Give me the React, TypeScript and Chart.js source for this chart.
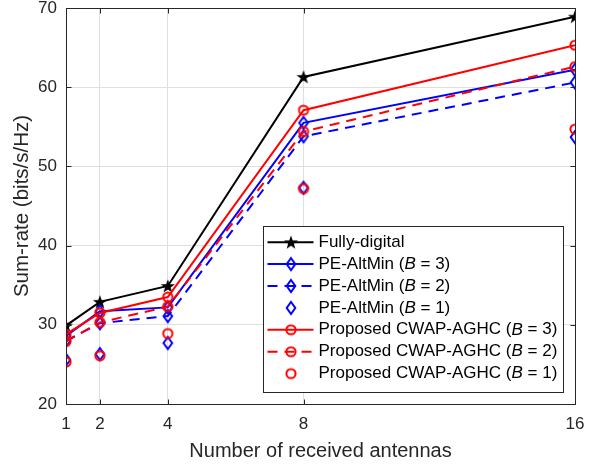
import React, { useEffect, useRef } from "react";
import { Chart, registerables } from "chart.js";

Chart.register(...registerables);

// ---------- data ----------
const antennas = [1, 2, 4, 8, 16];
const xTicks = [1, 2, 4, 8, 16];
const yTicks = [20, 30, 40, 50, 60, 70];

const fullyDigital = [29.9, 32.9, 34.9, 61.3, 68.9];
const peAltMinB3 = [28.6, 31.7, 32.2, 55.5, 62.2];
const peAltMinB2 = [28.0, 30.2, 31.1, 53.8, 60.6];
const peAltMinB1 = [25.6, 26.3, 27.7, 47.3, 53.7];
const cwapB3 = [28.8, 31.5, 33.5, 57.1, 65.3];
const cwapB2 = [27.9, 30.3, 32.3, 54.4, 62.6];
const cwapB1 = [25.3, 26.1, 28.9, 47.2, 54.7];

const legendLabels = [
  ["Fully-digital", "", ""],
  ["PE-AltMin (", "B", " = 3)"],
  ["PE-AltMin (", "B", " = 2)"],
  ["PE-AltMin (", "B", " = 1)"],
  ["Proposed CWAP-AGHC (", "B", " = 3)"],
  ["Proposed CWAP-AGHC (", "B", " = 2)"],
  ["Proposed CWAP-AGHC (", "B", " = 1)"],
];

const FONT = "'Liberation Sans', Arial, Helvetica, sans-serif";
const AXIS_COLOR = "#262626";
const GRID_COLOR = "#dfdfdf";
const BLUE = "#0000ff";
const RED = "#ff0000";
const DASH = [10, 7];

// ---------- marker images ----------
function makeStar(color: string) {
  const c = document.createElement("canvas");
  c.width = 16;
  c.height = 16;
  const g = c.getContext("2d")!;
  const cx = 8, cy = 8.6, R = 7.4, r = 3.0;
  g.beginPath();
  for (let i = 0; i < 10; i++) {
    const a = -Math.PI / 2 + (i * Math.PI) / 5;
    const rr = i % 2 === 0 ? R : r;
    const px = cx + rr * Math.cos(a);
    const py = cy + rr * Math.sin(a);
    if (i === 0) g.moveTo(px, py);
    else g.lineTo(px, py);
  }
  g.closePath();
  g.fillStyle = color;
  g.fill();
  return c;
}

function makeDiamond(color: string) {
  const c = document.createElement("canvas");
  c.width = 14;
  c.height = 16;
  const g = c.getContext("2d")!;
  const cx = 7, cy = 8, hw = 4.3, hh = 6;
  g.beginPath();
  g.moveTo(cx, cy - hh);
  g.lineTo(cx + hw, cy);
  g.lineTo(cx, cy + hh);
  g.lineTo(cx - hw, cy);
  g.closePath();
  g.strokeStyle = color;
  g.lineWidth = 2;
  g.stroke();
  return c;
}

function makeCircle(color: string) {
  const c = document.createElement("canvas");
  c.width = 14;
  c.height = 14;
  const g = c.getContext("2d")!;
  g.beginPath();
  g.arc(7, 7, 4.6, 0, Math.PI * 2);
  g.strokeStyle = color;
  g.lineWidth = 2;
  g.stroke();
  return c;
}

function toPoints(vals: number[]) {
  return antennas.map((x, i) => ({ x, y: vals[i] }));
}

export default function App() {
  const ref = useRef<HTMLCanvasElement | null>(null);

  useEffect(() => {
    if (!ref.current) return;
    const star = makeStar("#000000");
    const dBlue = makeDiamond(BLUE);
    const cRed = makeCircle(RED);

    const series = [
      { data: fullyDigital, color: "#000000", marker: star, dash: [] as number[], line: true },
      { data: peAltMinB3, color: BLUE, marker: dBlue, dash: [] as number[], line: true },
      { data: peAltMinB2, color: BLUE, marker: dBlue, dash: DASH, line: true },
      { data: peAltMinB1, color: BLUE, marker: dBlue, dash: [] as number[], line: false },
      { data: cwapB3, color: RED, marker: cRed, dash: [] as number[], line: true },
      { data: cwapB2, color: RED, marker: cRed, dash: DASH, line: true },
      { data: cwapB1, color: RED, marker: cRed, dash: [] as number[], line: false },
    ];

    const boxPlugin = {
      id: "matlabBox",
      afterDraw(chart: any) {
        const { ctx, chartArea: ca, scales } = chart;
        ctx.save();
        ctx.strokeStyle = AXIS_COLOR;
        ctx.lineWidth = 1;
        const L = Math.round(ca.left) + 0.5;
        const R = Math.round(ca.right) + 0.5;
        const T = Math.round(ca.top) + 0.5;
        const B = Math.round(ca.bottom) + 0.5;
        ctx.beginPath();
        ctx.rect(L, T, R - L, B - T);
        const tl = 5;
        xTicks.forEach((v) => {
          const px = Math.round(scales.x.getPixelForValue(v)) + 0.5;
          ctx.moveTo(px, B);
          ctx.lineTo(px, B - tl);
          ctx.moveTo(px, T);
          ctx.lineTo(px, T + tl);
        });
        yTicks.forEach((v) => {
          const py = Math.round(scales.y.getPixelForValue(v)) + 0.5;
          ctx.moveTo(L, py);
          ctx.lineTo(L + tl, py);
          ctx.moveTo(R, py);
          ctx.lineTo(R - tl, py);
        });
        ctx.stroke();

        // legend
        const lw = 300, lh = 166;
        const lx = Math.round(ca.right - 12 - lw) + 0.5;
        const ly = Math.round(ca.bottom - 12 - lh) + 0.5;
        ctx.fillStyle = "#ffffff";
        ctx.fillRect(lx, ly, lw, lh);
        ctx.strokeStyle = AXIS_COLOR;
        ctx.lineWidth = 1;
        ctx.strokeRect(lx, ly, lw, lh);
        const rowH = 21.9;
        const normalFont = `17px ${FONT}`;
        const italicFont = `italic 17px ${FONT}`;
        ctx.textBaseline = "middle";
        ctx.textAlign = "left";
        series.forEach((s, i) => {
          const cy = ly + 15.7 + i * rowH;
          const x0 = lx + 4, x1 = lx + 50, mx = lx + 27.5;
          if (s.line) {
            ctx.save();
            ctx.strokeStyle = s.color;
            ctx.lineWidth = 2;
            ctx.setLineDash(s.dash);
            ctx.beginPath();
            ctx.moveTo(x0, cy);
            ctx.lineTo(x1, cy);
            ctx.stroke();
            ctx.restore();
          }
          const m = s.marker;
          ctx.drawImage(m, mx - m.width / 2, cy - m.height / 2);
          const [a, b, c] = legendLabels[i];
          let tx = lx + 55;
          ctx.fillStyle = "#000000";
          ctx.font = normalFont;
          ctx.fillText(a, tx, cy);
          tx += ctx.measureText(a).width;
          if (b) {
            ctx.font = italicFont;
            ctx.fillText(b, tx, cy);
            tx += ctx.measureText(b).width;
            ctx.font = normalFont;
            ctx.fillText(c, tx, cy);
          }
        });
        ctx.restore();
      },
    };

    const chart = new Chart(ref.current, {
      type: "line",
      data: {
        datasets: series.map((s, i) => ({
          label: legendLabels[i].join(""),
          data: toPoints(s.data),
          borderColor: s.color,
          backgroundColor: s.color,
          borderWidth: 2,
          borderDash: s.dash,
          showLine: s.line,
          pointStyle: s.marker as any,
          pointRadius: 6,
          pointHoverRadius: 6,
          tension: 0,
          fill: false,
          order: 6 - i,
        })),
      },
      options: {
        animation: false,
        responsive: true,
        maintainAspectRatio: false,
        events: [],
        layout: { padding: { top: 5, right: 25, left: 0, bottom: 0 } },
        plugins: {
          legend: { display: false },
          tooltip: { enabled: false },
        },
        scales: {
          x: {
            type: "linear",
            min: 1,
            max: 16,
            afterBuildTicks: (scale: any) => {
              scale.ticks = xTicks.map((v) => ({ value: v }));
            },
            afterFit: (scale: any) => {
              scale.height = 68;
              scale.paddingLeft = 0;
              scale.paddingRight = 0;
            },
            grid: { color: GRID_COLOR, drawTicks: false, lineWidth: 1 },
            border: { color: AXIS_COLOR, width: 1 },
            ticks: {
              color: AXIS_COLOR,
              font: { family: FONT, size: 17 },
              padding: 10,
              maxRotation: 0,
              autoSkip: false,
              callback: (v: any) => String(v),
            },
            title: {
              display: true,
              text: "Number of received antennas",
              color: AXIS_COLOR,
              font: { family: FONT, size: 20 },
              padding: { top: 0, bottom: 9 },
            },
          },
          y: {
            type: "linear",
            min: 20,
            max: 70,
            afterBuildTicks: (scale: any) => {
              scale.ticks = yTicks.map((v) => ({ value: v }));
            },
            afterFit: (scale: any) => {
              scale.width = 66;
              scale.paddingTop = 0;
              scale.paddingBottom = 0;
            },
            grid: { color: GRID_COLOR, drawTicks: false, lineWidth: 1 },
            border: { color: AXIS_COLOR, width: 1 },
            ticks: {
              color: AXIS_COLOR,
              font: { family: FONT, size: 17 },
              padding: 9,
              callback: (v: any) => String(v),
            },
            title: {
              display: true,
              text: "Sum-rate (bits/s/Hz)",
              color: AXIS_COLOR,
              font: { family: FONT, size: 20.5 },
              padding: { top: 10, bottom: 0 },
            },
          },
        },
      },
      plugins: [boxPlugin],
    });

    return () => chart.destroy();
  }, []);

  return (
    <div style={{ position: "fixed", left: 0, top: 0, width: 600, height: 472 }}>
      <canvas ref={ref} />
    </div>
  );
}
